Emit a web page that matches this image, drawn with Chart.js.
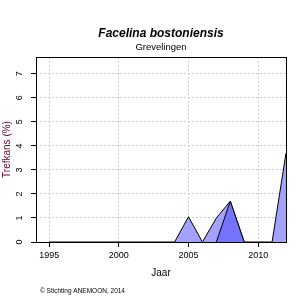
<!DOCTYPE html>
<html>
<head>
<meta charset="utf-8">
<script src="https://cdn.jsdelivr.net/npm/chart.js@4/dist/chart.umd.min.js"></script>
<style>
  html, body { margin:0; padding:0; background:#fff; }
  #wrap { width:300px; height:300px; position:relative; }
</style>
</head>
<body>
<div id="wrap"><canvas id="c" width="300" height="300"></canvas></div>
<script>
  // years and "trefkans" values
  const years      = [1995,1996,1997,1998,1999,2000,2001,2002,2003,2004,2005,2006,2007,2008,2009,2010,2011,2012];
  const lightVals  = [0,0,0,0,0,0,0,0,0,0,1.05,0,1.0,1.7,0,0,0,3.7];
  const darkYears  = [2007,2008,2009];
  const darkVals   = [0,1.7,0];
  const xTicks = [1995,2000,2005,2010];
  const yTicks = [0,1,2,3,4,5,6,7];

  const FONT = '"Liberation Sans", Arial, sans-serif';

  const toPts = (xs, ys) => xs.map((x, i) => ({ x: x, y: ys[i] }));

  const decor = {
    id: 'decor',
    afterDraw(chart) {
      const ctx = chart.ctx;
      const a = chart.chartArea;
      const ys = chart.scales.y;
      ctx.save();
      // plot box
      ctx.strokeStyle = '#000';
      ctx.lineWidth = 1;
      ctx.strokeRect(a.left + 0.5, a.top + 0.5, a.right - a.left, a.bottom - a.top);
      // rotated y tick labels
      ctx.fillStyle = '#000';
      ctx.font = '9px ' + FONT;
      ctx.textAlign = 'center';
      ctx.textBaseline = 'middle';
      yTicks.forEach(v => {
        ctx.save();
        ctx.translate(20, ys.getPixelForValue(v));
        ctx.rotate(-Math.PI / 2);
        ctx.fillText(String(v), 0, 0);
        ctx.restore();
      });
      // titles
      const cx = (a.left + a.right) / 2;
      ctx.font = 'italic bold 12px ' + FONT;
      ctx.fillText('Facelina bostoniensis', cx, 34);
      ctx.font = '9.5px ' + FONT;
      ctx.fillText('Grevelingen', cx, 47);
      ctx.font = '10px ' + FONT;
      ctx.fillText('Jaar', cx, 273);
      ctx.save();
      ctx.translate(7, (a.top + a.bottom) / 2);
      ctx.rotate(-Math.PI / 2);
      ctx.fillStyle = '#660033';
      ctx.fillText('Trefkans (%)', 0, 0);
      ctx.restore();
      ctx.textAlign = 'left';
      ctx.fillStyle = '#000';
      ctx.font = '6.5px ' + FONT;
      ctx.fillText('\u00A9 Stichting ANEMOON, 2014', 40, 291);
      ctx.restore();
    }
  };

  new Chart(document.getElementById('c'), {
    type: 'line',
    data: {
      datasets: [
        { data: toPts(years, lightVals), borderColor:'#000', borderWidth:1, backgroundColor:'#a3a3ff',
          fill:'origin', tension:0, pointRadius:0, order:2 },
        { data: toPts(darkYears, darkVals), borderColor:'#000', borderWidth:1, backgroundColor:'#7474ff',
          fill:'origin', tension:0, pointRadius:0, order:1 }
      ]
    },
    options: {
      responsive:false, animation:false, events:[],
      layout: { padding: { top:57, right:14, left:0, bottom:0 } },
      plugins: { legend:{ display:false }, tooltip:{ enabled:false } },
      scales: {
        x: {
          type:'linear', min:1994.05, max:2012.0,
          afterBuildTicks: s => { s.ticks = xTicks.map(v => ({ value:v })); },
          afterFit: s => { s.height = 58; },
          ticks: { font:{ size:9, family:FONT }, color:'#000', padding:3, maxRotation:0, callback: v => String(v) },
          grid: { color:'#cccccc', lineWidth:1, tickColor:'#000', tickLength:5, tickBorderDash:[] },
          border: { display:false, dash:[2,2] }
        },
        y: {
          min:0, max:7.7,
          afterBuildTicks: s => { s.ticks = yTicks.map(v => ({ value:v })); },
          afterFit: s => { s.width = 36; },
          ticks: { color:'rgba(0,0,0,0)', font:{ size:9, family:FONT }, padding:3 },
          grid: { color: c => c.tick && c.tick.value === 0 ? 'rgba(0,0,0,0)' : '#cccccc', lineWidth:1,
                  tickColor:'#000', tickLength:5, tickBorderDash:[] },
          border: { display:false, dash:[2,2] }
        }
      }
    },
    plugins: [decor]
  });
</script>
</body>
</html>
